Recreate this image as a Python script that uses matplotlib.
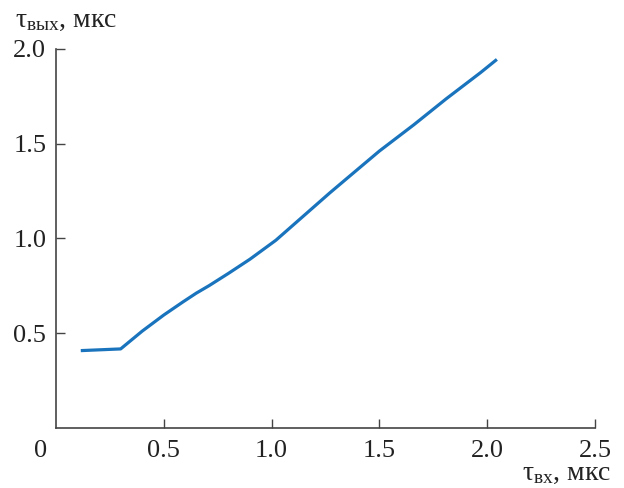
import numpy as np
import matplotlib
matplotlib.use("Agg")
import matplotlib.pyplot as plt

plt.rcParams['font.family'] = ['Liberation Serif', 'DejaVu Serif']
plt.rcParams['mathtext.fontset'] = 'custom'
plt.rcParams['mathtext.rm'] = 'Liberation Serif'
plt.rcParams['mathtext.it'] = 'Liberation Serif:italic'

# tau_in (us) vs tau_out (us)
tau_in = [0.115, 0.30, 0.40, 0.50, 0.59, 0.65, 0.71, 0.80, 0.90, 1.02, 1.10, 1.19, 1.27,
          1.35, 1.50, 1.66, 1.81, 1.97, 2.045]
tau_out = [0.407, 0.416, 0.51, 0.595, 0.665, 0.71, 0.75, 0.815, 0.89, 0.99, 1.07, 1.16, 1.24,
           1.317, 1.461, 1.60, 1.737, 1.876, 1.945]

xticks = [0.5, 1.0, 1.5, 2.0, 2.5]
yticks = [0.5, 1.0, 1.5, 2.0]

fig = plt.figure(figsize=(6.24, 4.88), dpi=100)
ax = fig.add_axes([0.0897, 0.1236, 0.8638, 0.776])

ax.plot(tau_in, tau_out, color='#1a74bd', lw=2.3, solid_capstyle='butt')

ax.set_xlim(0, 2.5)
ax.set_ylim(0, 2.0)
ax.set_xticks(xticks)
ax.set_yticks(yticks)
ax.set_xticklabels([f'{v:.1f}' for v in xticks])
ax.set_yticklabels([f'{v:.1f}' for v in yticks])
ax.tick_params(direction='in', length=6.5, width=1.0, color='#444444',
               labelsize=19, pad=7, labelcolor='#222222')
ax.tick_params(axis='x', pad=9)
for s in ['top', 'right']:
    ax.spines[s].set_visible(False)
for s in ['left', 'bottom']:
    ax.spines[s].set_color('#444444')
    ax.spines[s].set_linewidth(1.2)

ax.annotate('0', xy=(0, 0), xytext=(-11, -9), textcoords='offset points',
            ha='center', va='top', fontsize=19, color='#222222')

fig.text(0.024, 0.958, r'$\mathrm{τ_{вых}}$, мкс', fontsize=20, color='#222222',
         ha='left', va='center')
fig.text(0.980, 0.030, r'$\mathrm{τ_{вх}}$, мкс', fontsize=20, color='#222222',
         ha='right', va='center')

fig.savefig('out.png', dpi=100)
